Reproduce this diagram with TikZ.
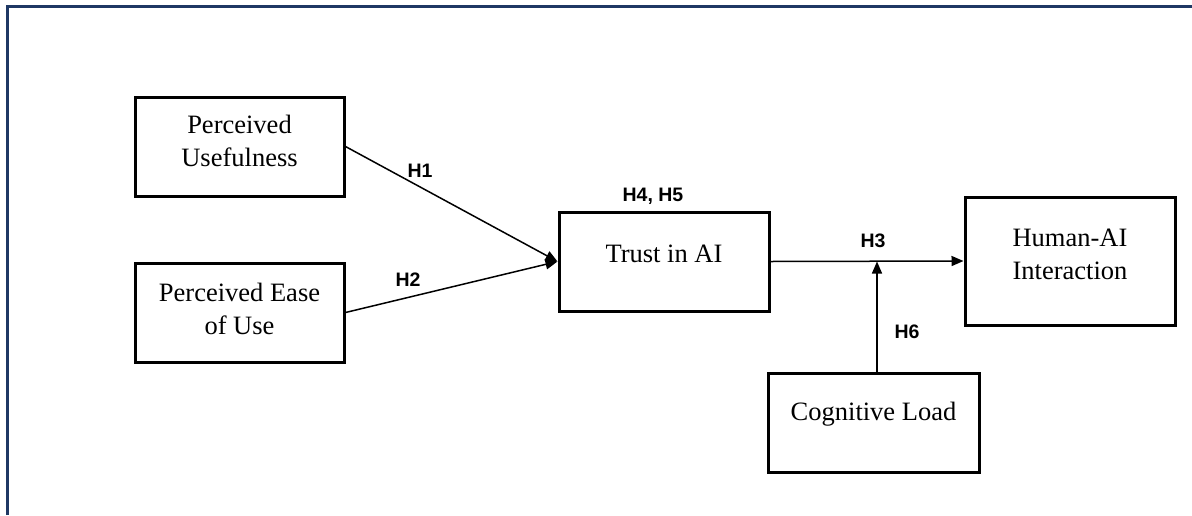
\documentclass[tikz,border=0pt]{standalone}
\usepackage{fontspec}
\setmainfont{Liberation Serif}
\newfontfamily\labfont{Liberation Sans}
\usetikzlibrary{arrows.meta}
\definecolor{framenavy}{HTML}{1F3864}
\begin{document}
\begin{tikzpicture}[x=1pt,y=-1pt,
  box/.style={draw=black,line width=3pt,minimum width=209pt,minimum height=99pt,inner sep=0pt},
  txt/.style={font=\fontsize{26.5}{33}\selectfont,align=center,inner sep=0pt},
  hlab/.style={font=\labfont\bfseries\fontsize{19.5}{22}\selectfont,inner sep=0pt},
  conn/.style={draw=black,line width=1.5pt,-{Triangle[length=12pt,width=10pt]}}]
\useasboundingbox (0,0) rectangle (1192,515);
\fill[white] (0,0) rectangle (1192,515);
% frame
\draw[framenavy,line width=3pt] (7.5,515) -- (7.5,6.5) -- (1192,6.5);
% boxes
\node[box] (pu) at (239.5,146.5) {};
\node[box] (peu) at (239.5,312.5) {};
\node[box,minimum width=210pt] (trust) at (664,261.5) {};
\node[box,minimum width=210pt,minimum height=128pt] (hai) at (1070,261) {};
\node[box,minimum width=211pt] (cl) at (873.5,422.5) {};
% box texts
\node[txt] (tpu) at ([yshift=6pt]pu.center) {Perceived\\Usefulness};
\node[txt] (tpeu) at ([yshift=4pt]peu.center) {Perceived Ease\\of Use};
\node[txt] (ttrust) at ([yshift=8pt]trust.center) {Trust in AI};
\node[txt] (thai) at ([yshift=7pt]hai.center) {Human-AI\\Interaction};
\node[txt] (tcl) at ([yshift=8pt]cl.center) {Cognitive Load};
% connectors
\coordinate (mod) at (877,261.5);
\draw[conn] (pu.east) -- (trust.west);
\draw[conn] (peu.east) -- (trust.west);
\draw[conn] (trust.east) -- (hai.west);
\draw[conn] (mod |- cl.north) -- (mod);
% hypothesis labels
\node[hlab] (h1) at (420,171) {H1};
\node[hlab] (h2) at (408,280) {H2};
\node[hlab] (h45) at (653,196) {H4, H5};
\node[hlab] (h3) at (873,241) {H3};
\node[hlab] (h6) at (907,332) {H6};
\end{tikzpicture}
\end{document}
